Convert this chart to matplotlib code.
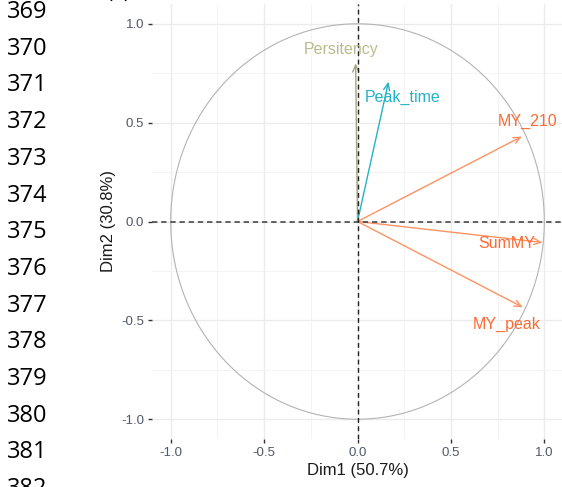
import numpy as np
import matplotlib.pyplot as plt

# PCA variable loadings on the first two dimensions
variables = ['Persitency', 'Peak_time', 'MY_210', 'SumMY', 'MY_peak']
dim1 = [-0.01, 0.166, 0.88, 0.99, 0.885]
dim2 = [0.80, 0.707, 0.43, -0.106, -0.434]
arrow_colors = ['#A4A67C', '#22B4C6', '#FD9362', '#FD9362', '#FD9362']
label_colors = ['#B9BC8C', '#22B4C6', '#FC6B35', '#FC6B35', '#FC6B35']
# where the repelled labels ended up
label_x = [-0.086, 0.24, 0.91, 0.80, 0.80]
label_y = [0.87, 0.626, 0.505, -0.11, -0.52]

dim1_pct = 50.7
dim2_pct = 30.8
ticks = [-1.0, -0.5, 0.0, 0.5, 1.0]
line_numbers = list(range(369, 383))

W, H = 562, 487
fig = plt.figure(figsize=(W / 100, H / 100), dpi=100)
plt.rcParams['font.family'] = ['Liberation Sans', 'DejaVu Sans']

ax = fig.add_axes([152 / W, 48 / H, 411 / W, 435 / H])
ax.set_xlim(-1.1, 1.1)
ax.set_ylim(-1.1, 1.1)
for s in ax.spines.values():
    s.set_visible(False)

# grid, major and minor
minor = [-0.75, -0.25, 0.25, 0.75]
for v in ticks:
    ax.axvline(v, color='#ebebeb', lw=1.0, zorder=0)
    ax.axhline(v, color='#ebebeb', lw=1.0, zorder=0)
for v in minor:
    ax.axvline(v, color='#f2f2f2', lw=0.6, zorder=0)
    ax.axhline(v, color='#f2f2f2', lw=0.6, zorder=0)

# unit circle
t = np.linspace(0, 2 * np.pi, 400)
ax.plot(np.cos(t), np.sin(t), color='#b3b3b3', lw=0.8, zorder=1)

for i, name in enumerate(variables):
    ax.annotate('', xy=(dim1[i], dim2[i]), xytext=(0, 0),
                arrowprops=dict(arrowstyle='->,head_length=0.5,head_width=0.22',
                                color=arrow_colors[i], lw=1.0, shrinkA=0, shrinkB=0),
                zorder=2)
    ax.text(label_x[i], label_y[i], name, color=label_colors[i], fontsize=11.5,
            ha='center', va='center', zorder=3)

ax.axhline(0, color='#3a3a3a', lw=1.1, ls=(0, (3.5, 2.5)), zorder=2.5)
ax.axvline(0, color='#222222', lw=1.0, ls=(0, (3.5, 2.5)), zorder=2.5)

ax.set_xticks(ticks)
ax.set_yticks(ticks)
ax.set_xticklabels(['%.1f' % v for v in ticks])
ax.set_yticklabels(['%.1f' % v for v in ticks])
ax.tick_params(length=3, width=1, color='#333333', labelcolor='#4f5868',
               labelsize=9.5, pad=2.5)

ax.set_xlabel('Dim1 (%.1f%%)' % dim1_pct, fontsize=12, color='#1a1a1a', labelpad=3)
ax.set_ylabel('Dim2 (%.1f%%)' % dim2_pct, fontsize=12, color='#1a1a1a', labelpad=4)

# manuscript line numbers down the left margin
for k, n in enumerate(line_numbers):
    y = 12 + k * 36.7
    fig.text(7 / W, 1 - y / H, str(n), fontsize=17, family='Open Sans',
             color='black', ha='left', va='center')
fig.text(118 / W, 1 - 3 / H, '(a)', fontsize=15, family='Open Sans',
         color='black', ha='center', va='bottom')

fig.savefig('out.png', dpi=100)
